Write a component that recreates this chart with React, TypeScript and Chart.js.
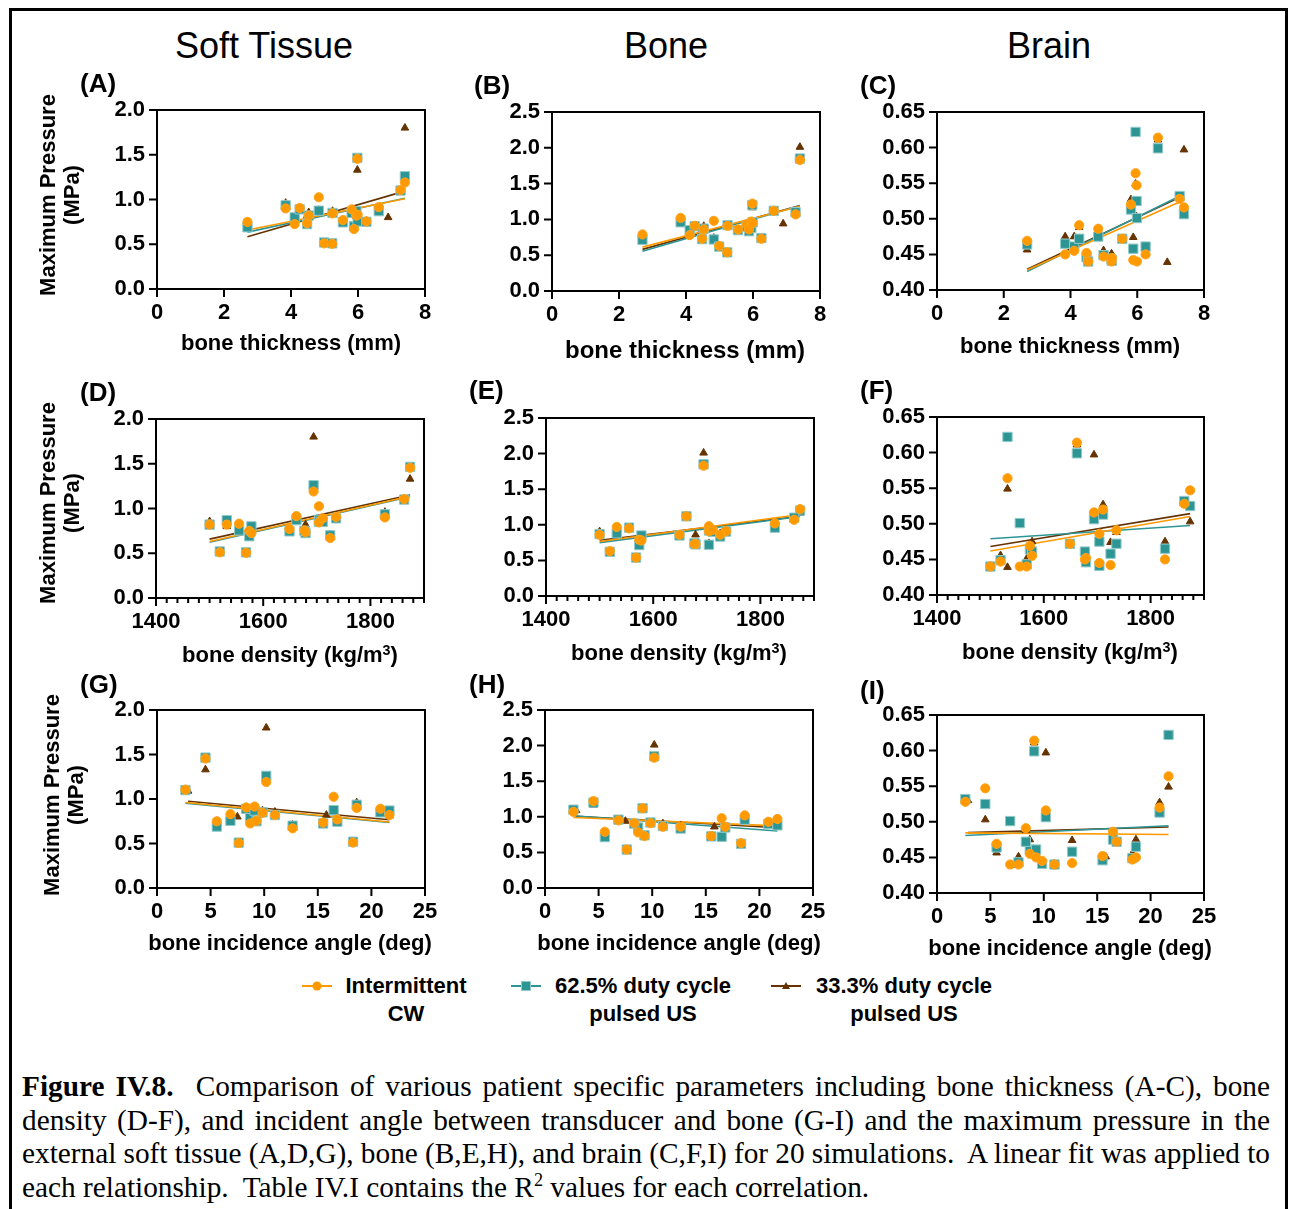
import React, { useEffect, useRef } from 'react';
import { Chart, registerables } from 'chart.js';
Chart.register(...registerables);

const SANS = '"Liberation Sans", Arial, Helvetica, sans-serif';
const SERIF = '"Liberation Serif", "Times New Roman", serif';

// ---- 20 simulations: patient geometry ----
const thickness = [2.70, 3.84, 4.11, 4.26, 4.48, 4.53, 4.83, 4.99, 5.23, 5.24, 5.55, 5.81, 5.88, 5.95, 5.99, 5.98, 6.25, 6.62, 7.27, 7.40];
const density = [1574, 1827, 1578, 1736, 1679, 1500, 1704, 1519, 1568, 1704, 1649, 1711, 1725, 1532, 1555, 1874, 1677, 1662, 1863, 1694];
const angle = [5.58, 18.63, 8.69, 8.32, 15.5, 11.0, 16.48, 18.29, 7.63, 9.84, 16.82, 20.84, 12.65, 21.68, 6.85, 4.52, 9.28, 9.1, 2.65, 10.19];
// geometry as plotted for the 33.3% series (differs for a few simulations)
const thickness333 = [2.70, 3.84, 4.11, 4.26, 4.48, 4.53, 4.83, 4.99, 5.23, 5.24, 5.55, 5.81, 5.88, 5.95, 6.90, 5.98, 6.25, 6.62, 7.27, 7.40];
const density333 = [1574, 1827, 1578, 1736, 1679, 1500, 1704, 1519, 1568, 1704, 1649, 1711, 1725, 1532, 1532, 1874, 1677, 1662, 1863, 1694];
const angle333 = [5.58, 18.63, 8.69, 8.32, 15.8, 11.0, 16.48, 18.29, 7.63, 9.84, 16.82, 20.84, 12.65, 21.68, 7.5, 4.52, 9.28, 9.1, 2.9, 10.19];

// ---- maximum pressure (MPa) ----
const softCW = [0.75, 0.90, 0.725, 0.905, 0.735, 0.82, 1.025, 0.51, 0.505, 0.845, 0.77, 0.89, 0.67, 0.82, 0.83, 1.455, 0.755, 0.915, 1.105, 1.19];
const boneCW = [0.79, 1.02, 0.78, 0.91, 0.73, 0.86, 0.98, 0.63, 0.54, 0.91, 0.86, 0.93, 0.86, 0.97, 0.95, 1.22, 0.73, 1.12, 1.07, 1.83];
const brainCW = [0.469, 0.450, 0.455, 0.491, 0.452, 0.440, 0.486, 0.447, 0.440, 0.445, 0.472, 0.520, 0.442, 0.564, 0.440, 0.547, 0.450, 0.614, 0.528, 0.516];

const soft625 = [0.69, 0.935, 0.80, 0.89, 0.725, 0.82, 0.875, 0.52, 0.51, 0.85, 0.745, 0.85, 0.70, 0.87, 0.755, 1.465, 0.75, 0.87, 1.10, 1.26];
const bone625 = [0.715, 0.96, 0.85, 0.905, 0.725, 0.87, 0.72, 0.62, 0.54, 0.92, 0.85, 0.90, 0.835, 0.88, 0.96, 1.20, 0.74, 1.12, 1.10, 1.85];
const brain625 = [0.464, 0.465, 0.461, 0.472, 0.446, 0.440, 0.475, 0.449, 0.443, 0.441, 0.472, 0.513, 0.458, 0.622, 0.501, 0.525, 0.461, 0.599, 0.532, 0.5065];

const soft333 = [0.68, 0.96, 0.76, 0.88, 0.82, 0.855, 0.88, 0.51, 0.49, 0.87, 0.76, 0.86, 0.71, 0.81, 0.80, 1.33, 0.76, 0.90, 1.09, 1.80];
const bone333 = [0.76, 0.97, 0.80, 0.90, 0.86, 0.905, 0.74, 0.62, 0.54, 0.90, 0.85, 0.91, 0.88, 0.95, 0.94, 1.165, 0.73, 1.12, 1.09, 2.01];
const brain333 = [0.4565, 0.475, 0.475, 0.488, 0.451, 0.441, 0.486, 0.4555, 0.451, 0.439, 0.472, 0.527, 0.474, 0.549, 0.439, 0.503, 0.450, 0.611, 0.530, 0.597];

const seriesNames = ['Intermittent CW', '62.5% duty cycle pulsed US', '33.3% duty cycle pulsed US'];

// ---- tick labels ----
const thicknessTicks = [0, 2, 4, 6, 8];
const densityTicks = [1400, 1600, 1800];
const angleTicks = [0, 5, 10, 15, 20, 25];
const softTicks = [0, 0.5, 1.0, 1.5, 2.0];
const boneTicks = [0, 0.5, 1.0, 1.5, 2.0, 2.5];
const brainTicks = [0.40, 0.45, 0.50, 0.55, 0.60, 0.65];

const columnTitles = ['Soft Tissue', 'Bone', 'Brain'];

const xData: any = {
  thickness: [thickness, thickness, thickness333],
  density: [density, density, density333],
  angle: [angle, angle, angle333],
};
const yData: any = {
  soft: [softCW, soft625, soft333],
  bone: [boneCW, bone625, bone333],
  brain: [brainCW, brain625, brain333],
};
const xAxisCfg: any = {
  thickness: { min: 0, max: 8, ticks: thicknessTicks, minor: 2, dec: 0 },
  density: { min: 1400, max: 1900, ticks: densityTicks, minor: 20, dec: 0 },
  angle: { min: 0, max: 25, ticks: angleTicks, minor: 5, dec: 0 },
};
const yAxisCfg: any = {
  soft: { min: 0, max: 2, ticks: softTicks, dec: 1 },
  bone: { min: 0, max: 2.5, ticks: boneTicks, dec: 1 },
  brain: { min: 0.4, max: 0.65, ticks: brainTicks, dec: 2 },
};

const seriesStyle = [
  { color: '#FF9900', border: '#FFA31A', point: 'circle', r: 4.6, bw: 1 },
  { color: '#2E9595', border: '#93CACA', point: 'rect', r: 6.6, bw: 1 },
  { color: '#663300', border: '#663300', point: 'triangle', r: 4.4, bw: 1 },
];

const panelDefs = [
  { letter: 'A', x: 'thickness', y: 'soft', rect: [157, 110, 425, 289] },
  { letter: 'B', x: 'thickness', y: 'bone', rect: [552, 112, 820, 291] },
  { letter: 'C', x: 'thickness', y: 'brain', rect: [937, 112, 1204, 290] },
  { letter: 'D', x: 'density', y: 'soft', rect: [156, 419, 424, 598] },
  { letter: 'E', x: 'density', y: 'bone', rect: [546, 418, 814, 596] },
  { letter: 'F', x: 'density', y: 'brain', rect: [937, 417, 1204, 595] },
  { letter: 'G', x: 'angle', y: 'soft', rect: [157, 710, 425, 888] },
  { letter: 'H', x: 'angle', y: 'bone', rect: [545, 710, 813, 888] },
  { letter: 'I', x: 'angle', y: 'brain', rect: [937, 715, 1204, 893] },
];

const letterPos = [[80, 83], [474, 85], [860, 85], [80, 392], [469, 390], [860, 390], [80, 684], [469, 684], [860, 690]];
const xTitlePos = [[291, 343, 22], [685, 350, 24], [1070, 346, 22], [290, 655, 22], [679, 653, 22], [1070, 652, 22], [290, 943, 22], [679, 943, 22], [1070, 948, 22]];
const yTitlePos = [[60, 195], [60, 503], [64, 795]];

function linFit(xs: number[], ys: number[]) {
  const n = xs.length;
  let mx = 0, my = 0;
  for (let i = 0; i < n; i++) { mx += xs[i]; my += ys[i]; }
  mx /= n; my /= n;
  let sxx = 0, sxy = 0;
  for (let i = 0; i < n; i++) { sxx += (xs[i] - mx) ** 2; sxy += (xs[i] - mx) * (ys[i] - my); }
  const b = sxy / sxx, a = my - b * mx;
  const x0 = Math.min(...xs), x1 = Math.max(...xs);
  return [{ x: x0, y: a + b * x0 }, { x: x1, y: a + b * x1 }];
}

const framePlugin: any = {
  id: 'frame',
  afterDraw(chart: any, _args: any, opts: any) {
    const { ctx, chartArea: a } = chart;
    const sx = chart.scales.x, sy = chart.scales.y;
    ctx.save();
    ctx.strokeStyle = '#000';
    ctx.lineWidth = 2;
    ctx.strokeRect(a.left, a.top, a.right - a.left, a.bottom - a.top);
    ctx.beginPath();
    const n = Math.round((opts.xMax - opts.xMin) / opts.xMinor);
    for (let i = 0; i <= n; i++) {
      const v = opts.xMin + i * opts.xMinor;
      const px = sx.getPixelForValue(v);
      const major = opts.xMajor.some((m: number) => Math.abs(m - v) < 1e-6);
      ctx.moveTo(px, a.bottom);
      ctx.lineTo(px, a.bottom + (major ? 8 : 5));
    }
    for (const v of opts.yMajor) {
      const py = sy.getPixelForValue(v);
      ctx.moveTo(a.left, py);
      ctx.lineTo(a.left - 8, py);
    }
    ctx.stroke();
    ctx.restore();
  },
};

const YW = 80, XH = 50, PT = 40, PR = 30;

function Panel({ def }: { def: any }) {
  const ref = useRef<HTMLCanvasElement>(null);
  const [L, T, R, B] = def.rect;
  const w = YW + (R - L) + PR;
  const h = PT + (B - T) + XH;
  useEffect(() => {
    const xc = xAxisCfg[def.x], yc = yAxisCfg[def.y];
    const xs = xData[def.x], ys = yData[def.y];
    const pts: any[] = [];
    const lines: any[] = [];
    for (let s = 0; s < 3; s++) {
      const st = seriesStyle[s];
      pts.push({
        label: seriesNames[s],
        data: xs[s].map((x: number, i: number) => ({ x, y: ys[s][i] })),
        pointStyle: st.point,
        pointRadius: st.r,
        backgroundColor: st.color,
        borderColor: st.border,
        borderWidth: st.bw,
        showLine: false,
      });
      lines.push({
        label: seriesNames[s] + ' fit',
        data: linFit(xs[s], ys[s]),
        showLine: true,
        pointRadius: 0,
        borderColor: st.color,
        borderWidth: 1.6,
        backgroundColor: st.color,
      });
    }
    const tickFont = { family: SANS, size: 22, weight: 'bold' as const };
    const chart = new Chart(ref.current as HTMLCanvasElement, {
      type: 'scatter',
      data: { datasets: [...pts, ...lines] },
      options: {
        responsive: false,
        maintainAspectRatio: false,
        animation: false,
        events: [],
        layout: { padding: { top: PT, right: PR, left: 0, bottom: 0 } },
        plugins: {
          legend: { display: false },
          tooltip: { enabled: false },
          frame: { xMin: xc.min, xMax: xc.max, xMinor: xc.minor, xMajor: xc.ticks, yMajor: yc.ticks },
        } as any,
        scales: {
          x: {
            type: 'linear', position: 'bottom', min: xc.min, max: xc.max,
            afterBuildTicks: (s: any) => { s.ticks = xc.ticks.map((v: number) => ({ value: v })); },
            afterFit: (s: any) => { s.height = XH; },
            grid: { display: false, drawTicks: false }, border: { display: false },
            ticks: { autoSkip: false, maxRotation: 0, padding: 11, color: '#000', font: tickFont, callback: (v: any) => Number(v).toFixed(xc.dec) },
          },
          y: {
            type: 'linear', position: 'left', min: yc.min, max: yc.max,
            afterBuildTicks: (s: any) => { s.ticks = yc.ticks.map((v: number) => ({ value: v })); },
            afterFit: (s: any) => { s.width = YW; },
            grid: { display: false, drawTicks: false }, border: { display: false },
            ticks: { autoSkip: false, padding: 12, color: '#000', font: tickFont, callback: (v: any) => Number(v).toFixed(yc.dec) },
          },
        } as any,
      },
      plugins: [framePlugin],
    });
    return () => chart.destroy();
  }, []);
  return (
    <canvas ref={ref} width={w} height={h}
      style={{ position: 'absolute', left: L - YW, top: T - PT, width: w, height: h }} />
  );
}

const abs = (x: number, y: number, extra: any = {}): any => ({
  position: 'absolute', left: x, top: y, transform: 'translate(-50%,-50%)', whiteSpace: 'nowrap', lineHeight: 1, ...extra,
});

function LegendMarker({ kind, color, border }: any) {
  return (
    <svg width={30} height={16} style={{ display: 'block' }}>
      <line x1={0} y1={8} x2={30} y2={8} stroke={color} strokeWidth={2} />
      {kind === 'circle' && <circle cx={15} cy={8} r={4.5} fill={color} />}
      {kind === 'rect' && <rect x={10.5} y={3.5} width={9} height={9} fill={color} stroke={border} strokeWidth={1} />}
      {kind === 'triangle' && <polygon points="15,4 19,11 11,11" fill={color} />}
    </svg>
  );
}

const legendPos = [
  { mx: 302, tx: 406, l1: 'Intermittent', l2: 'CW' },
  { mx: 511, tx: 643, l1: '62.5% duty cycle', l2: 'pulsed US' },
  { mx: 771, tx: 904, l1: '33.3% duty cycle', l2: 'pulsed US' },
];

const captionLines = [
  'Comparison of various patient specific parameters including bone thickness (A-C), bone',
  'density (D-F), and incident angle between transducer and bone (G-I) and the maximum pressure in the',
  'external soft tissue (A,D,G), bone (B,E,H), and brain (C,F,I) for 20 simulations.\u00a0 A linear fit was applied to',
];

export default function App() {
  const xTitles = [
    'bone thickness (mm)', 'bone thickness (mm)', 'bone thickness (mm)',
    'density', 'density', 'density',
    'bone incidence angle (deg)', 'bone incidence angle (deg)', 'bone incidence angle (deg)',
  ];
  const colCenters = [264, 666, 1049];
  const lineStyle: any = { position: 'absolute', left: 22, width: 1248, fontFamily: SERIF, fontSize: 29.3, lineHeight: '33.6px', color: '#000', whiteSpace: 'normal' };
  return (
    <div style={{ position: 'absolute', left: 0, top: 0, width: 1291, height: 1209, overflow: 'hidden', background: '#fff', color: '#000' }}>
      <div style={{ position: 'absolute', left: 9, top: 8, width: 1279, height: 1400, border: '3px solid #000', borderBottom: 'none', boxSizing: 'border-box' }} />
      {columnTitles.map((t, i) => (
        <div key={t} style={abs(colCenters[i], 46, { fontFamily: SANS, fontSize: 36 })}>{t}</div>
      ))}
      {panelDefs.map((d) => <Panel key={d.letter} def={d} />)}
      {panelDefs.map((d, i) => (
        <div key={'l' + d.letter} style={{ position: 'absolute', left: letterPos[i][0], top: letterPos[i][1], transform: 'translateY(-50%)', fontFamily: SANS, fontWeight: 'bold', fontSize: 26, lineHeight: 1 }}>({d.letter})</div>
      ))}
      {xTitlePos.map((p, i) => (
        <div key={'x' + i} style={abs(p[0], p[1], { fontFamily: SANS, fontWeight: 'bold', fontSize: p[2] })}>
          {xTitles[i] === 'density'
            ? <span>bone density (kg/m<span style={{ fontSize: '0.65em', position: 'relative', top: '-0.5em' }}>3</span>)</span>
            : xTitles[i]}
        </div>
      ))}
      {yTitlePos.map((p, i) => (
        <div key={'y' + i} style={{ position: 'absolute', left: p[0], top: p[1], transform: 'translate(-50%,-50%) rotate(-90deg)', fontFamily: SANS, fontWeight: 'bold', fontSize: 22, lineHeight: '24px', textAlign: 'center', whiteSpace: 'nowrap' }}>
          Maximum Pressure<br />(MPa)
        </div>
      ))}
      {legendPos.map((lp, i) => (
        <React.Fragment key={'lg' + i}>
          <div style={{ position: 'absolute', left: lp.mx, top: 978 }}>
            <LegendMarker kind={seriesStyle[i].point} color={seriesStyle[i].color} border={seriesStyle[i].border} />
          </div>
          <div style={abs(lp.tx, 986, { fontFamily: SANS, fontWeight: 'bold', fontSize: 22 })}>{lp.l1}</div>
          <div style={abs(lp.tx, 1014, { fontFamily: SANS, fontWeight: 'bold', fontSize: 22 })}>{lp.l2}</div>
        </React.Fragment>
      ))}
      {captionLines.map((t, i) => (
        <div key={'c' + i} style={{ ...lineStyle, top: 1070 + i * 33.6, textAlign: 'justify', textAlignLast: 'justify', wordSpacing: -3 }}>
          {i === 0 ? <><b>Figure IV.8.</b>{'\u00a0 '}{t}</> : t}
        </div>
      ))}
      <div style={{ ...lineStyle, top: 1070 + 3 * 33.6, textAlign: 'left' }}>
        each relationship.{'\u00a0 '}Table IV.I contains the R<span style={{ fontSize: '0.62em', position: 'relative', top: '-0.6em' }}>2</span> values for each correlation.
      </div>
    </div>
  );
}
